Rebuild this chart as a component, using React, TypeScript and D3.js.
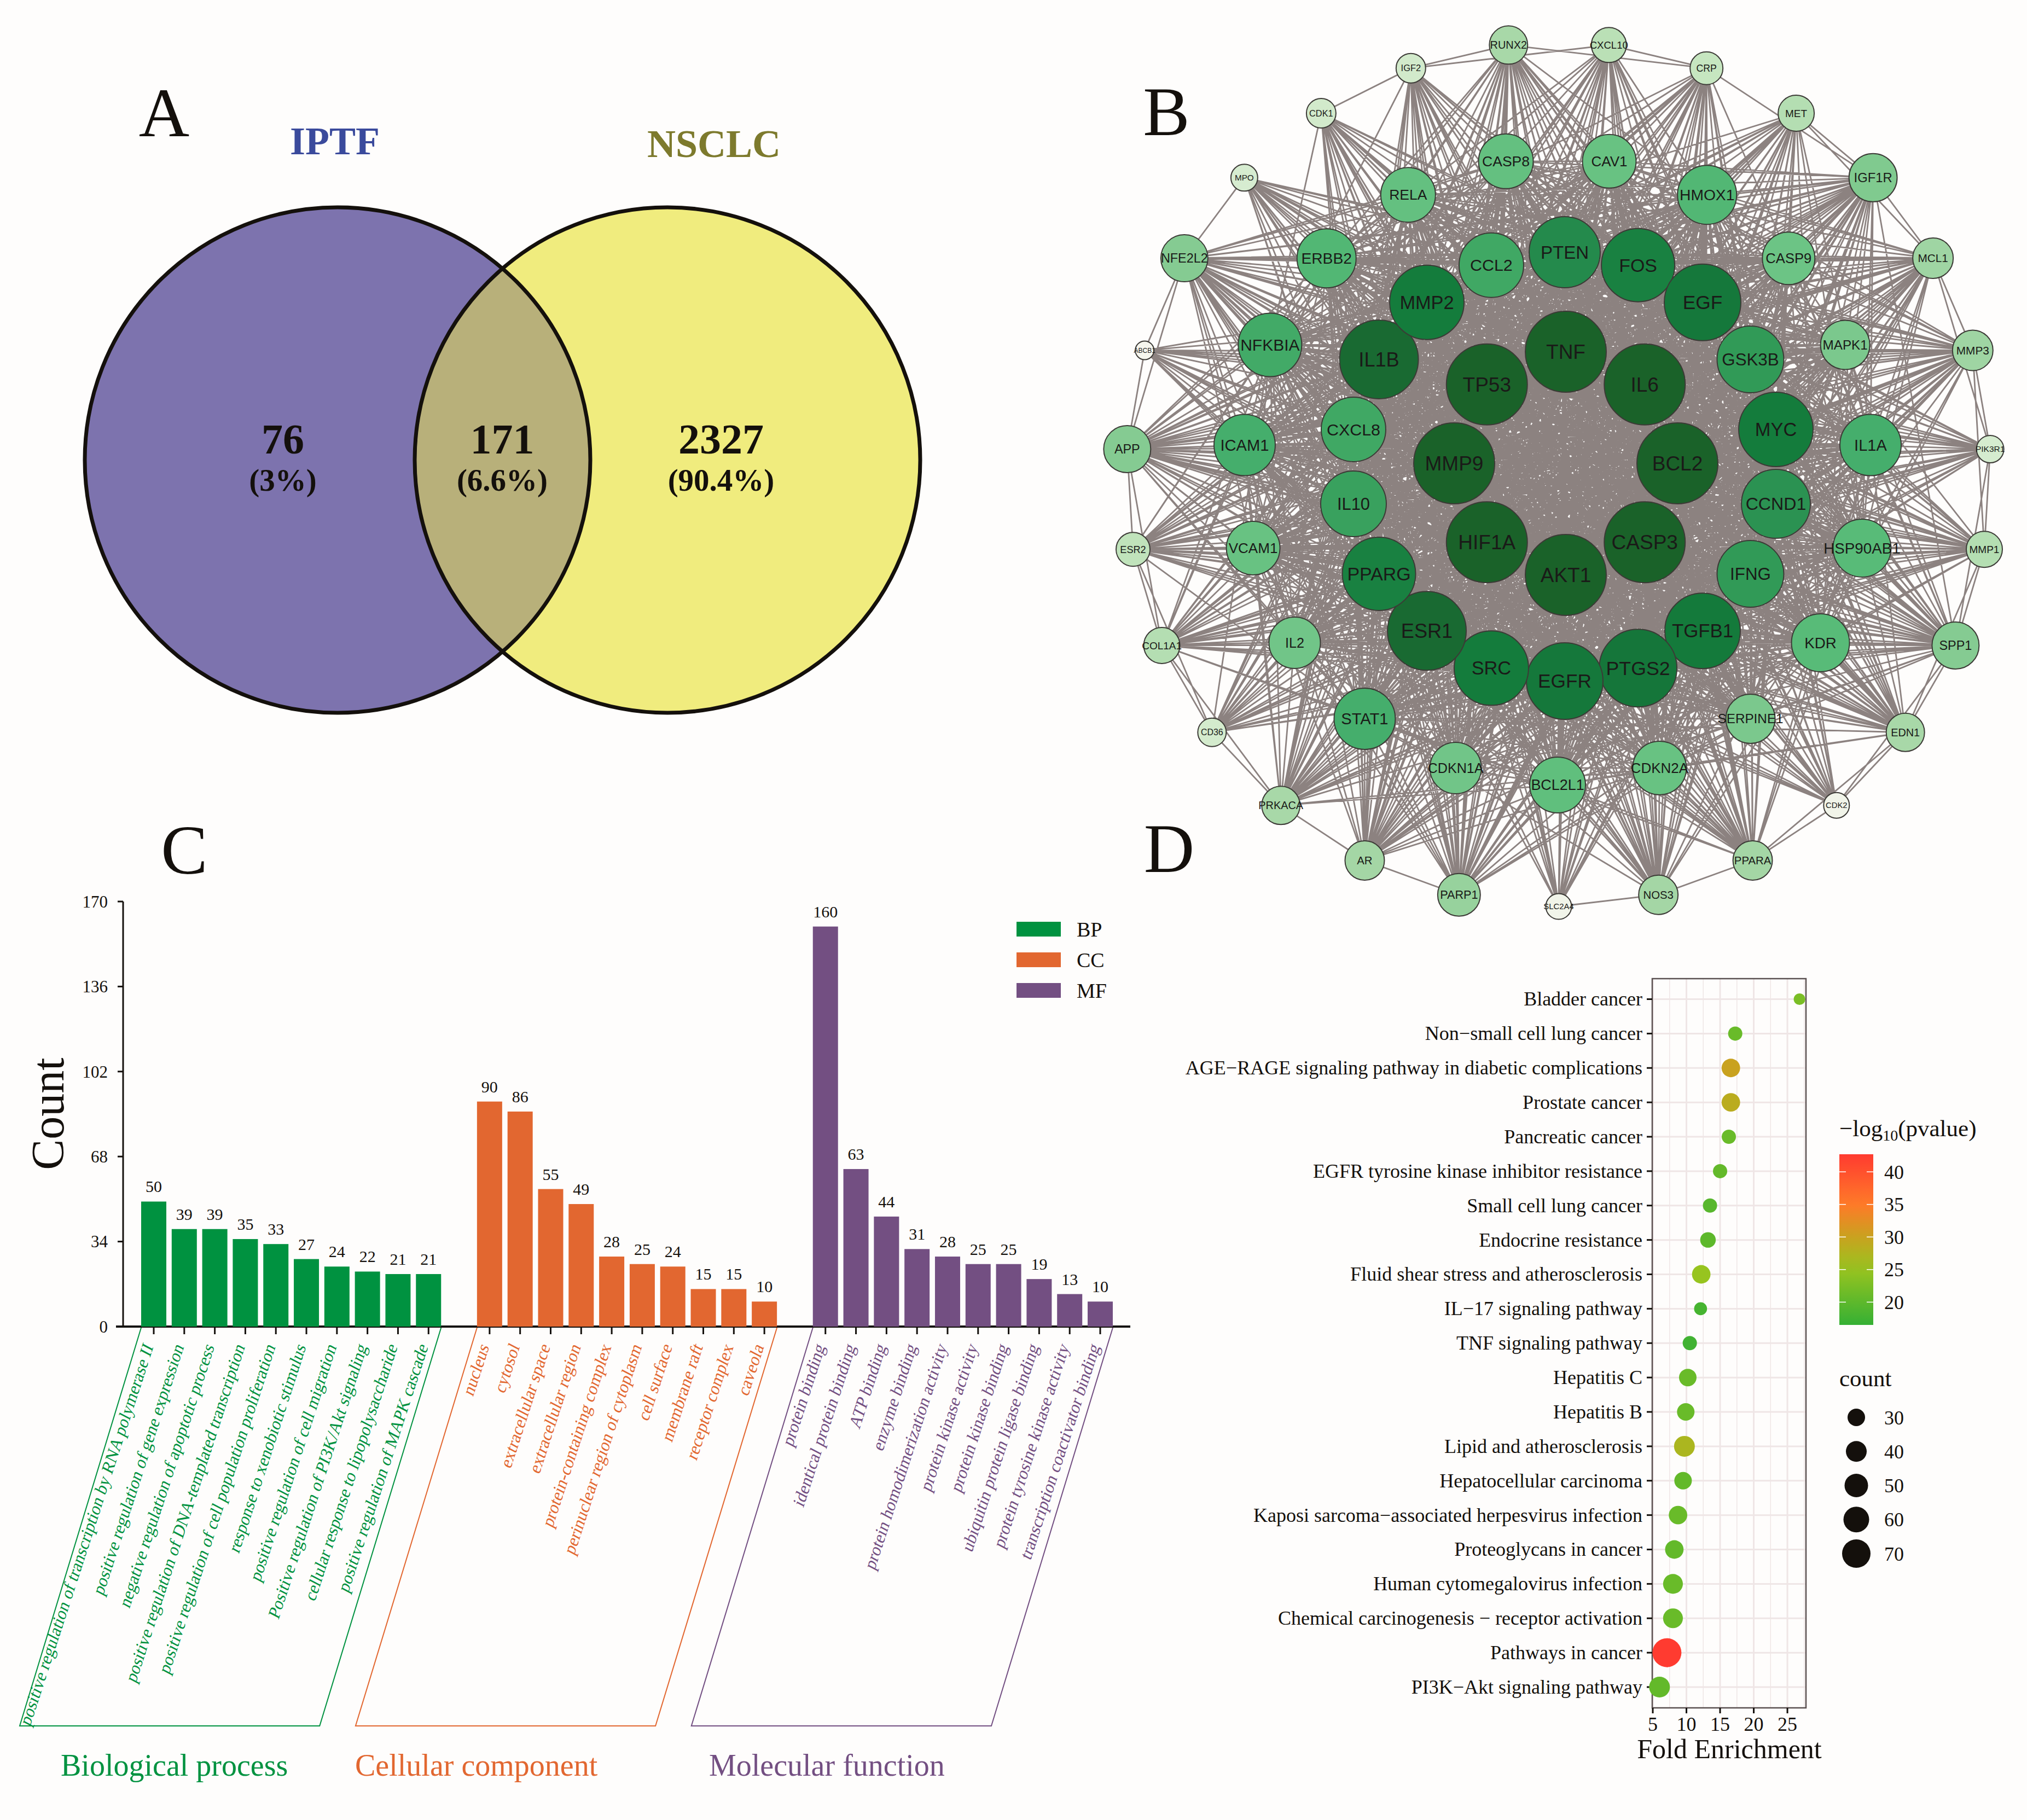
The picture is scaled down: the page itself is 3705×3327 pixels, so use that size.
import React from "react";
import * as d3 from "d3";

// ---------- Panel A ----------
const vennCounts = ["76", "171", "2327"];
const vennPercents = ["(3%)", "(6.6%)", "(90.4%)"];
const vennSets = ["IPTF", "NSCLC"];

const ring1Genes = ["TNF", "IL6", "BCL2", "CASP3", "AKT1", "HIF1A", "MMP9", "TP53"];
const ring1Degree = [74, 74, 74, 74, 74, 74, 74, 74];
const ring2Genes = ["PTEN", "FOS", "EGF", "GSK3B", "MYC", "CCND1", "IFNG", "TGFB1", "PTGS2", "EGFR", "SRC", "ESR1", "PPARG", "IL10", "CXCL8", "IL1B", "MMP2", "CCL2"];
const ring2Degree = [65, 67, 70, 61, 68, 63, 61, 69, 71, 70, 68, 72, 67, 60, 59, 72, 68, 59];
const ring3Genes = ["BCL2L1", "CDKN1A", "STAT1", "IL2", "VCAM1", "ICAM1", "NFKBIA", "ERBB2", "RELA", "CASP8", "CAV1", "HMOX1", "CASP9", "MAPK1", "IL1A", "HSP90AB1", "KDR", "SERPINE1", "CDKN2A"];
const ring3Degree = [51, 47, 56, 47, 49, 56, 58, 54, 50, 50, 49, 54, 48, 45, 56, 53, 53, 45, 49];
const ring4Genes = ["SLC2A4", "PARP1", "AR", "PRKACA", "CD36", "COL1A1", "ESR2", "APP", "ABCB1", "NFE2L2", "MPO", "CDK1", "IGF2", "RUNX2", "CXCL10", "CRP", "MET", "IGF1R", "MCL1", "MMP3", "PIK3R1", "MMP1", "SPP1", "EDN1", "CDK2", "PPARA", "NOS3"];
const ring4Degree = [23.5, 39, 36, 35, 26, 33, 31, 43, 17, 43, 24.5, 27, 27, 35, 32, 30, 33, 44, 37, 37, 25, 33, 43, 35, 23.5, 36, 36];
// Links between outer nodes that can actually be seen at the rim of the network.
const rimLinks: [string, string][] = [
  ["CDK1", "IGF2"], ["IGF2", "RUNX2"], ["CXCL10", "CRP"], ["MET", "IGF1R"], ["IGF1R", "MCL1"], ["MCL1", "MMP3"],
  ["MMP3", "PIK3R1"], ["PIK3R1", "MMP1"], ["MMP1", "SPP1"], ["SPP1", "EDN1"], ["EDN1", "CDK2"], ["CDK2", "PPARA"],
  ["PPARA", "NOS3"], ["NOS3", "SLC2A4"], ["PARP1", "AR"], ["AR", "PRKACA"], ["PRKACA", "CD36"], ["CD36", "COL1A1"],
  ["COL1A1", "ESR2"], ["ESR2", "APP"], ["APP", "ABCB1"], ["ABCB1", "NFE2L2"], ["NFE2L2", "MPO"],
  ["MMP3", "MMP1"], ["PIK3R1", "SPP1"], ["MCL1", "PIK3R1"], ["MMP1", "EDN1"], ["SPP1", "CDK2"], ["EDN1", "PPARA"],
  ["APP", "COL1A1"], ["ESR2", "CD36"], ["COL1A1", "PRKACA"], ["CXCL10", "IGF2"], ["RUNX2", "CRP"], ["CRP", "IGF1R"], ["MET", "MCL1"],
];

// ---------- Panel C ----------
const bpTerms = ["positive regulation of transcription by RNA polymerase II", "positive regulation of gene expression", "negative regulation of apoptotic process", "positive regulation of DNA-templated transcription", "positive regulation of cell population proliferation", "response to xenobiotic stimulus", "positive regulation of cell migration", "Positive regulation of PI3K/Akt signaling", "cellular response to lipopolysaccharide", "positive regulation of MAPK cascade"];
const bpCounts = [50, 39, 39, 35, 33, 27, 24, 22, 21, 21];
const ccTerms = ["nucleus", "cytosol", "extracellular space", "extracellular region", "protein-containing complex", "perinuclear region of cytoplasm", "cell surface", "membrane raft", "receptor complex", "caveola"];
const ccCounts = [90, 86, 55, 49, 28, 25, 24, 15, 15, 10];
const mfTerms = ["protein binding", "identical protein binding", "ATP binding", "enzyme binding", "protein homodimerization activity", "protein kinase activity", "protein kinase binding", "ubiquitin protein ligase binding", "protein tyrosine kinase activity", "transcription coactivator binding"];
const mfCounts = [160, 63, 44, 31, 28, 25, 25, 19, 13, 10];
const goTicks = [0, 34, 68, 102, 136, 170];
const goKeys = ["BP", "CC", "MF"];
const goTitles = ["Biological process", "Cellular component", "Molecular function"];

// ---------- Panel D ----------
const pathways = ["Bladder cancer", "Non\u2212small cell lung cancer", "AGE\u2212RAGE signaling pathway in diabetic complications", "Prostate cancer", "Pancreatic cancer", "EGFR tyrosine kinase inhibitor resistance", "Small cell lung cancer", "Endocrine resistance", "Fluid shear stress and atherosclerosis", "IL\u221217 signaling pathway", "TNF signaling pathway", "Hepatitis C", "Hepatitis B", "Lipid and atherosclerosis", "Hepatocellular carcinoma", "Kaposi sarcoma\u2212associated herpesvirus infection", "Proteoglycans in cancer", "Human cytomegalovirus infection", "Chemical carcinogenesis \u2212 receptor activation", "Pathways in cancer", "PI3K\u2212Akt signaling pathway"];
const foldEnrichment = [26.8, 17.25, 16.6, 16.6, 16.3, 15, 13.5, 13.2, 12.2, 12.1, 10.5, 10.2, 9.9, 9.7, 9.5, 8.75, 8.2, 8, 8, 7.1, 6];
const logP = [22.5, 21, 30, 28.5, 21, 20.5, 19.5, 20, 25, 18, 17.5, 21, 21, 27, 20.5, 21, 20.5, 21, 21, 42.7, 20.5];
const pathwayCounts = [21, 25, 33, 33, 25, 25, 25, 27, 33, 23, 25, 30, 30, 40, 30, 33, 33, 37, 37, 73, 40];
const fdTicks = [5, 10, 15, 20, 25];
const pTicks = [40, 35, 30, 25, 20];
const countTicks = [30, 40, 50, 60, 70];

const SERIF = "'Liberation Serif', serif";
const SANS = "'Liberation Sans', sans-serif";
const INK = "#14100c";
const rad = (d: number) => (d * Math.PI) / 180;

function Venn() {
  const cy = 841, r = 462;
  const cxs = [617, 1220];
  const tx = [517, 918, 1318];
  return (
    <g>
      <defs>
        <clipPath id="vennLeft"><circle cx={cxs[0]} cy={cy} r={r} /></clipPath>
      </defs>
      <circle cx={cxs[0]} cy={cy} r={r} fill="#7d73ae" />
      <circle cx={cxs[1]} cy={cy} r={r} fill="#f0ec7e" />
      <circle cx={cxs[1]} cy={cy} r={r} fill="#b8b07a" clipPath="url(#vennLeft)" />
      <circle cx={cxs[0]} cy={cy} r={r} fill="none" stroke={INK} strokeWidth={7} />
      <circle cx={cxs[1]} cy={cy} r={r} fill="none" stroke={INK} strokeWidth={7} />
      <text x={612} y={282} fontSize={72} fontWeight="bold" fontFamily={SERIF} fill="#3a4a9c" textAnchor="middle">{vennSets[0]}</text>
      <text x={1305} y={287} fontSize={72} fontWeight="bold" fontFamily={SERIF} fill="#7d7a2d" textAnchor="middle">{vennSets[1]}</text>
      {vennCounts.map((t, i) => (
        <text key={t} x={tx[i]} y={829} fontSize={78} fontWeight="bold" fontFamily={SERIF} fill={INK} textAnchor="middle">{t}</text>
      ))}
      {vennPercents.map((t, i) => (
        <text key={t} x={tx[i]} y={897} fontSize={57} fontWeight="bold" fontFamily={SERIF} fill={INK} textAnchor="middle">{t}</text>
      ))}
    </g>
  );
}

function Network() {
  const rings = [
    { genes: ring1Genes, deg: ring1Degree, cx: 2862, cy: 847, R: 204, start: 0 },
    { genes: ring2Genes, deg: ring2Degree, cx: 2860, cy: 853, R: 392, start: 0 },
    { genes: ring3Genes, deg: ring3Degree, cx: 2847, cy: 861, R: 574, start: 180 },
    { genes: ring4Genes, deg: ring4Degree, cx: 2849, cy: 867, R: 790, start: 180 },
  ];
  const color = d3.scaleLinear<string>()
    .domain([17, 24, 24.5, 27, 30, 35, 43, 48, 53, 56, 59, 61, 65, 68, 71, 72, 74])
    .range(["#f6f6ee", "#f1f4e9", "#d6ecd0", "#d2eacb", "#c6e6c0", "#a8d8a8", "#85cb92", "#6cc485", "#58bb78", "#45ae6c", "#40a864", "#319a57", "#248a4c", "#147c3c", "#15763a", "#196a32", "#1a6229"]);
  const fontScale = d3.scaleLinear().domain([17, 74]).range([12, 37]);
  const nodes = rings.flatMap((ring, k) =>
    ring.genes.map((g, i) => {
      const [dx, dy] = d3.pointRadial(rad(ring.start + (i * 360) / ring.genes.length), ring.R);
      return { g, deg: ring.deg[i], x: ring.cx + dx, y: ring.cy + dy, k };
    })
  );
  const byName = new Map(nodes.map((n) => [n.g, n]));
  // Individual edges cannot be read from the solid grey mass: links among the rings
  // are derived from the node sizes (two nodes link when jointly large enough),
  // and the rim links are the ones that can be seen in the picture.
  const linkPath = d3.path();
  nodes.forEach((a, p) => {
    nodes.forEach((b, q) => {
      if (q > p && a.deg + b.deg >= 84) {
        linkPath.moveTo(a.x, a.y);
        linkPath.lineTo(b.x, b.y);
      }
    });
  });
  rimLinks.forEach(([s, t]) => {
    const a = byName.get(s)!, b = byName.get(t)!;
    linkPath.moveTo(a.x, a.y);
    linkPath.lineTo(b.x, b.y);
  });
  return (
    <g>
      <path d={linkPath.toString()} fill="none" stroke="#8c8280" strokeWidth={2.8} />
      {nodes.map((n) => (
        <g key={n.g}>
          <circle cx={n.x} cy={n.y} r={n.deg} fill={color(n.deg)} stroke="#3c3a36" strokeWidth={2} />
          <text x={n.x} y={n.y} dy="0.35em" textAnchor="middle" fontFamily={SANS} fontSize={fontScale(n.deg)} fill="#1a1a18">{n.g}</text>
        </g>
      ))}
    </g>
  );
}

function GoBars() {
  const groups = [
    { key: goKeys[0], terms: bpTerms, counts: bpCounts, color: "#009240", title: goTitles[0], titleX: 111 },
    { key: goKeys[1], terms: ccTerms, counts: ccCounts, color: "#e26730", title: goTitles[1], titleX: 649 },
    { key: goKeys[2], terms: mfTerms, counts: mfCounts, color: "#734f82", title: goTitles[2], titleX: 1296 },
  ];
  const slots: string[] = [];
  groups.forEach((g, gi) => {
    g.terms.forEach((t) => slots.push(t));
    if (gi < 2) slots.push("gap" + gi);
  });
  const x = d3.scaleBand<string>().domain(slots).range([253.1, 2038.9]).paddingInner(0.176).paddingOuter(0.088);
  const y = d3.scaleLinear().domain([0, 170]).range([2425, 1648]);
  const axisLeft = 225;
  const frameTop = 2427, frameBottom = 3155, slant = 222;
  const frameLine = d3.line();
  return (
    <g fontFamily={SERIF}>
      {goTicks.map((t) => (
        <g key={t}>
          <line x1={axisLeft - 10} x2={axisLeft} y1={y(t)} y2={y(t)} stroke={INK} strokeWidth={3} />
          <text x={197} y={y(t)} dy="0.35em" textAnchor="end" fontSize={31} fill={INK}>{t}</text>
        </g>
      ))}
      <line x1={axisLeft} x2={axisLeft} y1={y(170)} y2={y(0)} stroke={INK} strokeWidth={3} />
      <line x1={212} x2={2066} y1={y(0)} y2={y(0)} stroke={INK} strokeWidth={4} />
      <text transform="translate(116,2036) rotate(-90)" textAnchor="middle" fontSize={84} fill={INK}>Count</text>
      {groups.map((g) => {
        const first = x(g.terms[0])!;
        const last = x(g.terms[g.terms.length - 1])! + x.bandwidth();
        return (
          <g key={g.key}>
            {g.terms.map((t, i) => (
              <g key={t}>
                <rect x={x(t)} y={y(g.counts[i])} width={x.bandwidth()} height={y(0) - y(g.counts[i])} fill={g.color} />
                <text x={x(t)! + x.bandwidth() / 2} y={y(g.counts[i]) - 17} textAnchor="middle" fontSize={30} fill={INK}>{g.counts[i]}</text>
                <line x1={x(t)! + x.bandwidth() / 2} x2={x(t)! + x.bandwidth() / 2} y1={y(0)} y2={y(0) + 14} stroke={INK} strokeWidth={3} />
                <text transform={`translate(${x(t)! + x.bandwidth() / 2 - 9},2458) rotate(-72) skewX(-10)`} dy="0.3em" textAnchor="end" fontSize={31.5} fill={g.color}>{t}</text>
              </g>
            ))}
            <path d={frameLine([[first, frameTop], [first - slant, frameBottom], [last - slant, frameBottom], [last, frameTop]]) ?? ""} fill="none" stroke={g.color} strokeWidth={2} />
            <text x={g.titleX} y={3246} fontSize={56} fill={g.color}>{g.title}</text>
          </g>
        );
      })}
      {groups.map((g, i) => (
        <g key={g.key}>
          <rect x={1858} y={1685 + i * 56} width={81} height={27} fill={g.color} />
          <text x={1968} y={1712 + i * 56} fontSize={38} fill={INK}>{g.key}</text>
        </g>
      ))}
    </g>
  );
}

function Dots() {
  const x = d3.scaleLinear().domain([5, 27.76]).range([3021, 3301]);
  const y = d3.scalePoint<string>().domain(pathways).range([1826.5, 3084]);
  const top = 1789, bottom = 3122;
  const color = d3.scaleLinear<string>().domain([16.5, 25, 30, 35, 42.7]).range(["#35b034", "#97c41f", "#c9a21f", "#ff7a28", "#ff3b30"]);
  const size = d3.scaleLinear().domain([20, 30, 40, 50, 60, 70, 73]).range([10, 16, 19, 21.5, 23.5, 26, 26.5]);
  const barTop = 2110, barBottom = 2422;
  const barY = d3.scaleLinear().domain([42.7, 16.5]).range([barTop, barBottom]);
  const legendYs = d3.scaleLinear().domain([30, 70]).range([2591, 2840]);
  const gridColor = "#efe6e6";
  const minor = fdTicks.map((t) => t + 2.5);
  const stops = d3.range(0, 11).map((i) => 42.7 - (i * 26.2) / 10);
  return (
    <g fontFamily={SERIF}>
      <defs>
        <linearGradient id="pGrad" x1="0" x2="0" y1="0" y2="1">
          {stops.map((s, i) => (<stop key={i} offset={i / 10} stopColor={color(s)} />))}
        </linearGradient>
      </defs>
      {minor.map((t) => (<line key={t} x1={x(t)} x2={x(t)} y1={top} y2={bottom} stroke={gridColor} strokeWidth={1.5} />))}
      {fdTicks.map((t) => (<line key={t} x1={x(t)} x2={x(t)} y1={top} y2={bottom} stroke={gridColor} strokeWidth={3} />))}
      {pathways.map((p) => (<line key={p} x1={3021} x2={3301} y1={y(p)} y2={y(p)} stroke={gridColor} strokeWidth={3} />))}
      <rect x={3020} y={top} width={281} height={bottom - top} fill="none" stroke="#5a5050" strokeWidth={2.5} />
      {pathways.map((p, i) => (
        <g key={p}>
          <line x1={3010} x2={3020} y1={y(p)} y2={y(p)} stroke={INK} strokeWidth={3} />
          <text x={3002} y={y(p)} dy="0.33em" textAnchor="end" fontSize={36} fill={INK}>{p}</text>
          <circle cx={x(foldEnrichment[i])} cy={y(p)} r={size(pathwayCounts[i])} fill={color(logP[i])} />
        </g>
      ))}
      {fdTicks.map((t) => (
        <g key={t}>
          <line x1={x(t)} x2={x(t)} y1={bottom} y2={bottom + 10} stroke={INK} strokeWidth={3} />
          <text x={x(t)} y={3164} textAnchor="middle" fontSize={36} fill={INK}>{t}</text>
        </g>
      ))}
      <text x={3161} y={3214} textAnchor="middle" fontSize={50} fill={INK}>Fold Enrichment</text>
      <text x={3362} y={2077} fontSize={43} fill={INK}>{"\u2212log"}<tspan fontSize={28} dy={8}>10</tspan><tspan dy={-8}>(pvalue)</tspan></text>
      <rect x={3362} y={barTop} width={62} height={barBottom - barTop} fill="url(#pGrad)" />
      {pTicks.map((t) => (
        <g key={t}>
          <line x1={3362} x2={3374} y1={barY(t)} y2={barY(t)} stroke="#ffffff" strokeWidth={1.5} />
          <line x1={3412} x2={3424} y1={barY(t)} y2={barY(t)} stroke="#ffffff" strokeWidth={1.5} />
          <text x={3444} y={barY(t)} dy="0.35em" fontSize={36} fill={INK}>{t}</text>
        </g>
      ))}
      <text x={3362} y={2534} fontSize={43} fill={INK}>count</text>
      {countTicks.map((t) => (
        <g key={t}>
          <circle cx={3393} cy={legendYs(t)} r={size(t)} fill={INK} />
          <text x={3444} y={legendYs(t)} dy="0.35em" fontSize={36} fill={INK}>{t}</text>
        </g>
      ))}
    </g>
  );
}

export default function App() {
  return (
    <svg width={3705} height={3327} viewBox="0 0 3705 3327" style={{ position: "absolute", left: 0, top: 0, background: "#fefdfc" }}>
      <Venn />
      <Network />
      <GoBars />
      <Dots />
      <g fontFamily={SERIF} fontSize={128} fill={INK} textAnchor="middle">
        <text x={300} y={249}>A</text>
        <text x={2132} y={247}>B</text>
        <text x={337} y={1597}>C</text>
        <text x={2137} y={1594}>D</text>
      </g>
    </svg>
  );
}
